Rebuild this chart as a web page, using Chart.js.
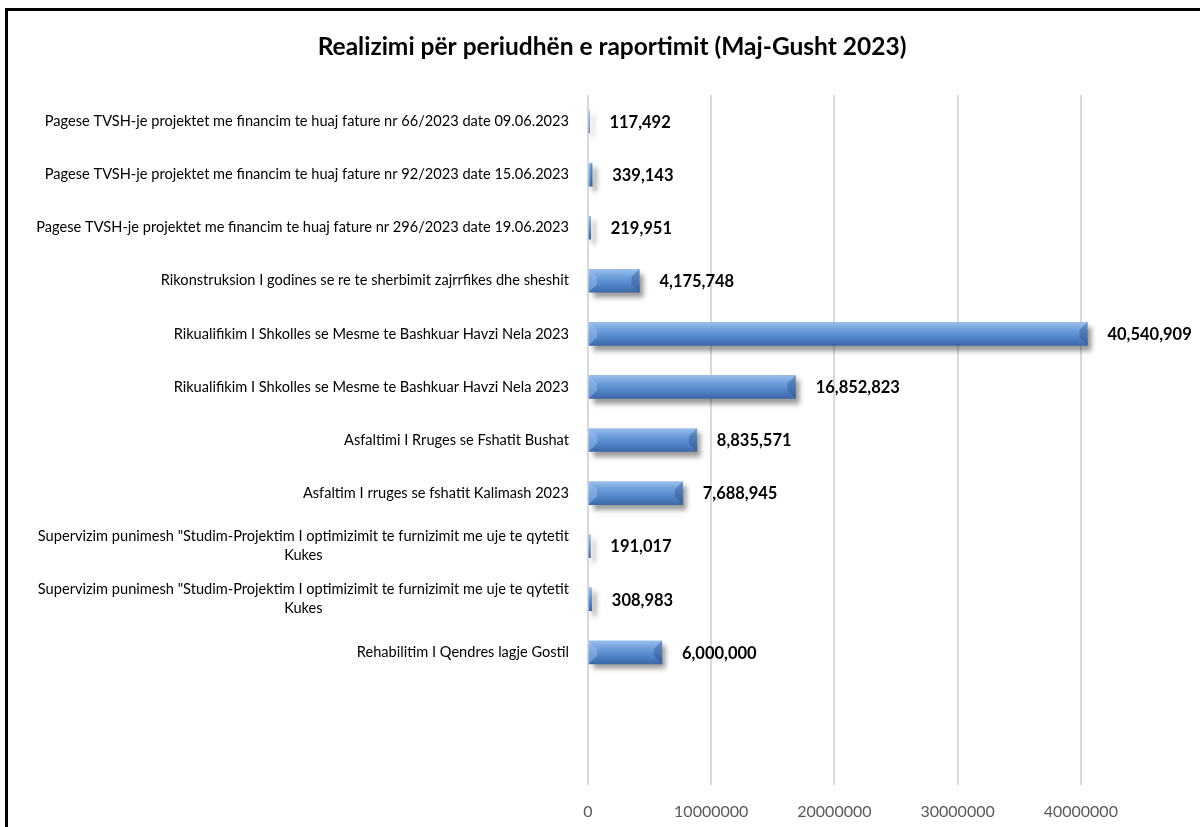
<!DOCTYPE html>
<html>
<head>
<meta charset="utf-8">
<script src="https://cdn.jsdelivr.net/npm/chart.js@4/dist/chart.umd.min.js"></script>
<style>
  html, body { margin: 0; padding: 0; background: #fff; overflow: hidden; width: 1200px; height: 827px; }
  #frame { position: absolute; left: 5px; top: 8px; width: 1260px; height: 900px; border: 3px solid #000; box-sizing: border-box; }
  #wrap { position: absolute; left: 0; top: 0; width: 1230px; height: 850px; }
</style>
</head>
<body>
<div id="frame"></div>
<div id="wrap"><canvas id="chart" width="1230" height="850"></canvas></div>
<script>
// categories, top to bottom (last two slots are empty in the original)
const categories = [
    'Pagese TVSH-je projektet me financim te huaj fature nr 66/2023 date 09.06.2023',
    'Pagese TVSH-je projektet me financim te huaj fature nr 92/2023 date 15.06.2023',
    'Pagese TVSH-je projektet me financim te huaj fature nr 296/2023 date 19.06.2023',
    'Rikonstruksion I godines se re te sherbimit zajrrfikes dhe sheshit',
    'Rikualifikim I Shkolles se Mesme te Bashkuar Havzi Nela 2023',
    'Rikualifikim I Shkolles se Mesme te Bashkuar Havzi Nela 2023',
    'Asfaltimi I Rruges se Fshatit Bushat',
    'Asfaltim I rruges se fshatit Kalimash 2023',
    ['Supervizim punimesh "Studim-Projektim I optimizimit te furnizimit me uje te qytetit', 'Kukes'],
    ['Supervizim punimesh "Studim-Projektim I optimizimit te furnizimit me uje te qytetit', 'Kukes'],
    'Rehabilitim I Qendres lagje Gostil',
    '',
    ''
];
const values = [117492, 339143, 219951, 4175748, 40540909, 16852823, 8835571, 7688945, 191017, 308983, 6000000, null, null];
const xTicks = [0, 10000000, 20000000, 30000000, 40000000];
const chartTitle = 'Realizimi për periudhën e raportimit (Maj-Gusht 2023)';

const FONT = 'Lato, "Open Sans", sans-serif';

function barGradient(context) {
    const chart = context.chart;
    if (!chart.chartArea || context.dataIndex === undefined) return '#5b8fd0';
    const yc = chart.scales.y.getPixelForValue(context.dataIndex);
    const g = chart.ctx.createLinearGradient(0, yc - 12, 0, yc + 12);
    g.addColorStop(0, '#9cc0ec');
    g.addColorStop(0.35, '#6d9ddb');
    g.addColorStop(0.7, '#4f80c4');
    g.addColorStop(1, '#3a66a6');
    return g;
}

// shadow under the bars
const shadowPlugin = {
    id: 'barShadow',
    beforeDatasetsDraw(chart) {
        const ctx = chart.ctx;
        ctx.save();
        ctx.shadowColor = 'rgba(0,0,0,0.4)';
        ctx.shadowBlur = 5;
        ctx.shadowOffsetX = 4;
        ctx.shadowOffsetY = 5;
    },
    afterDatasetsDraw(chart) {
        const ctx = chart.ctx;
        ctx.restore();
        // bevel faces at the bar ends + value labels
        const meta = chart.getDatasetMeta(0);
        ctx.save();
        meta.data.forEach((bar, i) => {
            if (values[i] == null) return;
            const x0 = bar.base, x1 = bar.x;
            const y0 = bar.y - bar.height / 2, y1 = bar.y + bar.height / 2;
            const b = Math.min(8, (x1 - x0) / 2);
            if (b > 1.5) {
                ctx.fillStyle = 'rgba(160,198,240,0.45)';
                ctx.beginPath();
                ctx.moveTo(x0, y0); ctx.lineTo(x0 + b, y0 + b); ctx.lineTo(x0 + b, y1 - b); ctx.lineTo(x0, y1);
                ctx.closePath(); ctx.fill();
                ctx.fillStyle = 'rgba(40,80,140,0.4)';
                ctx.beginPath();
                ctx.moveTo(x1, y0); ctx.lineTo(x1 - b, y0 + b); ctx.lineTo(x1 - b, y1 - b); ctx.lineTo(x1, y1);
                ctx.closePath(); ctx.fill();
            }
            ctx.font = 'bold 16.5px ' + FONT;
            ctx.fillStyle = '#000';
            ctx.textAlign = 'left';
            ctx.textBaseline = 'middle';
            ctx.fillText(values[i].toLocaleString('en-US'), x1 + 20, bar.y + 1);
        });
        ctx.restore();
    }
};

// category labels: right aligned block, wrapped lines centred in the block
const categoryLabels = {
    id: 'categoryLabels',
    afterDraw(chart) {
        const ctx = chart.ctx;
        const yScale = chart.scales.y;
        const right = chart.chartArea.left - 19;
        ctx.save();
        ctx.font = '14.6px ' + FONT;
        ctx.fillStyle = '#000';
        ctx.textAlign = 'center';
        ctx.textBaseline = 'middle';
        categories.forEach((lab, i) => {
            const lines = Array.isArray(lab) ? lab : [lab];
            const maxW = Math.max(...lines.map(l => ctx.measureText(l).width));
            const cx = right - maxW / 2;
            const yc = yScale.getPixelForValue(i);
            const lh = 19;
            lines.forEach((l, k) => {
                ctx.fillText(l, cx, yc - (lines.length - 1) * lh / 2 + k * lh);
            });
        });
        ctx.restore();
    }
};

new Chart(document.getElementById('chart').getContext('2d'), {
    type: 'bar',
    data: {
        labels: categories,
        datasets: [{
            data: values,
            backgroundColor: barGradient,
            borderWidth: 0,
            barThickness: 23
        }]
    },
    options: {
        indexAxis: 'y',
        responsive: false,
        animation: false,
        layout: { padding: { left: 20, right: 26, top: 0, bottom: 0 } },
        plugins: {
            legend: { display: false },
            tooltip: { enabled: false },
            title: {
                display: true,
                text: chartTitle,
                color: '#000',
                font: { family: FONT, size: 24.5, weight: 'bold' },
                padding: { top: 32, bottom: 33.6 }
            }
        },
        scales: {
            x: {
                min: 0,
                max: 50000000,
                afterBuildTicks(scale) {
                    scale.ticks = xTicks.concat([50000000]).map(v => ({ value: v }));
                },
                afterFit(scale) { scale.height = 65; },
                grid: { color: '#d9d9d9', lineWidth: 2, drawTicks: false },
                border: { display: false },
                ticks: {
                    color: '#595959',
                    font: { family: FONT, size: 16 },
                    padding: 17,
                    callback: v => (xTicks.includes(v) ? String(v) : '')
                }
            },
            y: {
                afterFit(scale) { scale.width = 568; },
                grid: { display: false },
                border: { display: false },
                ticks: { display: false }
            }
        }
    },
    plugins: [shadowPlugin, categoryLabels]
});
</script>
</body>
</html>
